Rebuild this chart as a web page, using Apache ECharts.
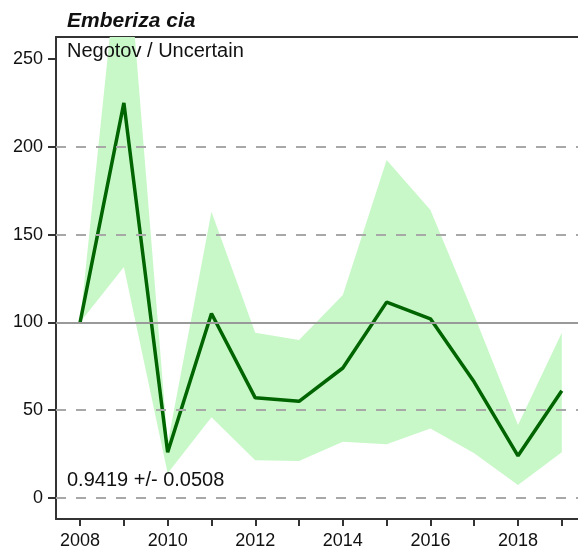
<!DOCTYPE html>
<html>
<head>
<meta charset="utf-8">
<script src="https://cdn.jsdelivr.net/npm/echarts@6/dist/echarts.min.js"></script>
<style>html,body{margin:0;padding:0;background:#fff}#c{width:578px;height:551px}</style>
</head>
<body>
<div id="c"></div>
<script>
const years = [2008, 2009, 2010, 2011, 2012, 2013, 2014, 2015, 2016, 2017, 2018, 2019];
const indexValues = [100, 225, 26, 105, 57, 55, 74, 111.5, 102, 66, 24, 61];
const lowerValues = [100, 131.5, 14, 46, 21.5, 21, 32, 30.5, 39.5, 25.5, 7.4, 26];
const upperValues = [100, 340, 31, 163, 94, 90, 115.5, 192.5, 164, 104, 41.6, 94];
const yTicks = [0, 50, 100, 150, 200, 250];
const xLabelYears = [2008, 2010, 2012, 2014, 2016, 2018];
const dashedLevels = [0, 50, 150, 200];
const baseLevel = 100;
const titleText = 'Emberiza cia';
const subtitleText = 'Negotov / Uncertain';
const trendText = '0.9419 +/- 0.0508';

const FONT = '"Liberation Sans", Arial, sans-serif';
const chart = echarts.init(document.getElementById('c'), null, {renderer: 'canvas'});
const xMin = 2007.45, xMax = 2019.37;

const bandData = years.map((y, i) => [y, lowerValues[i], upperValues[i]]);

const option = {
  animation: false,
  backgroundColor: '#ffffff',
  grid: {left: 56, right: 0, top: 37, bottom: 32},
  graphic: [
    {type: 'text', left: 67, top: 11, z: 10, style: {text: titleText, font: 'italic bold 21px ' + FONT, fill: '#111'}},
    {type: 'text', left: 67, top: 41, z: 10, style: {text: subtitleText, font: '20px ' + FONT, fill: '#111'}},
    {type: 'text', left: 67, top: 470, z: 10, style: {text: trendText, font: '20px ' + FONT, fill: '#111'}}
  ],
  xAxis: [
    {
      type: 'value', min: xMin, max: xMax, position: 'bottom',
      axisLine: {show: true, onZero: false, lineStyle: {color: '#333', width: 2}},
      axisTick: {show: true, customValues: years, length: 7, lineStyle: {color: '#333', width: 2}},
      axisLabel: {customValues: xLabelYears, margin: 13, fontFamily: FONT, fontSize: 18, color: '#111', formatter: v => String(v)},
      splitLine: {show: false}
    },
    {
      type: 'value', min: xMin, max: xMax, position: 'top',
      axisLine: {show: true, onZero: false, lineStyle: {color: '#333', width: 2}},
      axisTick: {show: false}, axisLabel: {show: false}, splitLine: {show: false}
    }
  ],
  yAxis: {
    type: 'value', min: -12, max: 262.5,
    axisLine: {show: true, onZero: false, lineStyle: {color: '#333', width: 2}},
    axisTick: {show: true, customValues: yTicks, length: 8, lineStyle: {color: '#333', width: 2}},
    axisLabel: {customValues: yTicks, margin: 13, fontFamily: FONT, fontSize: 18, color: '#111'},
    splitLine: {show: false}
  },
  series: [
    {
      type: 'custom', z: 1, silent: true, clip: true,
      data: bandData,
      encode: {x: 0, y: [1, 2]},
      renderItem: function (params, api) {
        if (params.dataIndex !== 0) return null;
        const upperPts = bandData.map(d => api.coord([d[0], d[2]]));
        const lowerPts = bandData.map(d => api.coord([d[0], d[1]])).reverse();
        const cs = params.coordSys;
        return {
          type: 'polygon',
          shape: {points: upperPts.concat(lowerPts)},
          style: {fill: '#c8f8c8', stroke: null},
          clipPath: {type: 'rect', shape: {x: cs.x, y: cs.y, width: cs.width, height: cs.height}}
        };
      }
    },
    {
      type: 'line', data: [], z: 2, silent: true,
      markLine: {
        silent: true, symbol: 'none', label: {show: false},
        data: dashedLevels.map(v => ({yAxis: v, lineStyle: {color: '#a8a8a8', width: 2, type: [10, 10]}}))
          .concat([{yAxis: baseLevel, lineStyle: {color: '#999', width: 2, type: 'solid'}}])
      }
    },
    {
      type: 'line', symbol: 'none', z: 3,
      data: years.map((y, i) => [y, indexValues[i]]),
      lineStyle: {color: '#006400', width: 3.5}
    }
  ]
};
chart.setOption(option);
</script>
</body>
</html>
